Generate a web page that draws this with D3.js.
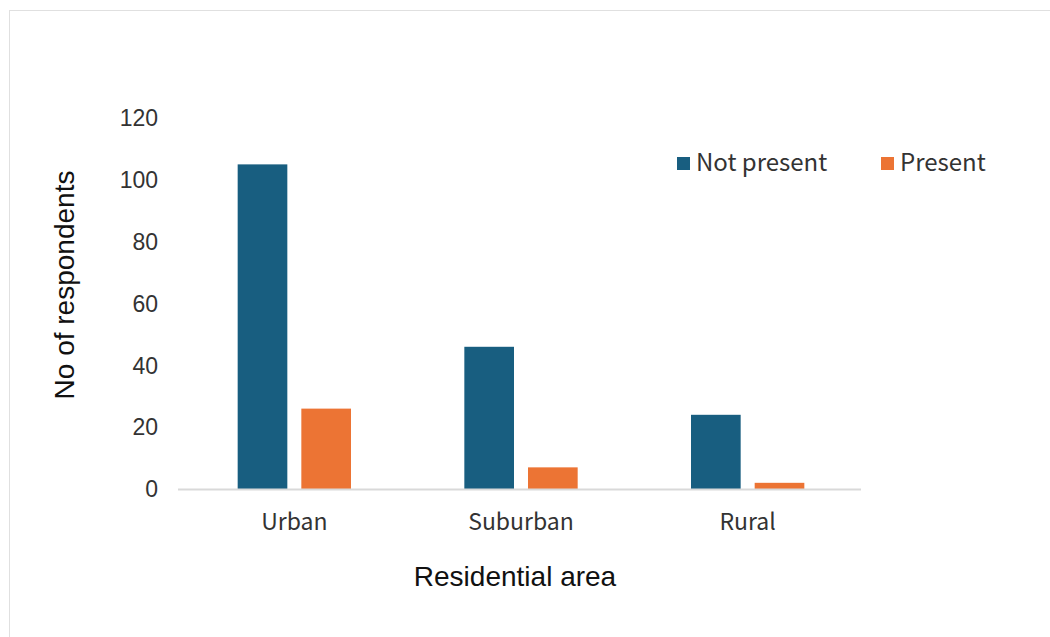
<!DOCTYPE html>
<html>
<head>
<meta charset="utf-8">
<script src="https://cdn.jsdelivr.net/npm/d3@7"></script>
<style>
  body { margin: 0; background: #fff; }
  svg { display: block; }
</style>
</head>
<body>
<div id="chart"></div>
<script>
// Data
const categories = ['Urban', 'Suburban', 'Rural'];
const seriesNames = ['Not present', 'Present'];
const notPresent = [105, 46, 24];
const present = [26, 7, 2];
const yTicks = [0, 20, 40, 60, 80, 100, 120];

const colors = ['#185e80', '#ec7434'];
const width = 1050, height = 637;
const margin = { left: 181, right: 189, top: 118, bottom: 148 };

const svg = d3.select('#chart').append('svg')
    .attr('width', width)
    .attr('height', height);

// Frame
svg.append('rect')
    .attr('x', 9.5).attr('y', 10.5)
    .attr('width', width + 20).attr('height', height + 20)
    .attr('fill', 'none')
    .attr('stroke', '#e0e0e0')
    .attr('stroke-width', 1);

const x0 = d3.scaleBand()
    .domain(categories)
    .range([margin.left, width - margin.right])
    .paddingInner(0.5)
    .paddingOuter(0.25);

const x1 = d3.scaleBand()
    .domain(seriesNames)
    .range([0, x0.bandwidth()])
    .paddingInner(0.22);

const y = d3.scaleLinear()
    .domain([0, 120])
    .range([height - margin.bottom, margin.top]);

const rows = categories.map((c, i) => ({ cat: c, values: [notPresent[i], present[i]] }));

// Bars
const groups = svg.selectAll('g.cat')
    .data(rows)
    .join('g')
    .attr('class', 'cat')
    .attr('transform', d => `translate(${x0(d.cat)},0)`);

groups.selectAll('rect')
    .data(d => d.values.map((v, i) => ({ name: seriesNames[i], value: v, i })))
    .join('rect')
    .attr('x', d => x1(d.name))
    .attr('y', d => y(d.value))
    .attr('width', x1.bandwidth())
    .attr('height', d => y(0) - y(d.value))
    .attr('fill', d => colors[d.i]);

// X axis line
svg.append('line')
    .attr('x1', margin.left - 3)
    .attr('x2', width - margin.right)
    .attr('y1', y(0) + 0.5)
    .attr('y2', y(0) + 0.5)
    .attr('stroke', '#d9d9d9')
    .attr('stroke-width', 2);

// Y tick labels
svg.append('g')
    .selectAll('text')
    .data(yTicks)
    .join('text')
    .attr('x', 158)
    .attr('y', d => y(d))
    .attr('dy', '0.36em')
    .attr('text-anchor', 'end')
    .attr('font-family', 'Liberation Sans, Arial, sans-serif')
    .attr('font-size', 23)
    .attr('fill', '#333')
    .text(d => d);

// X category labels
svg.append('g')
    .selectAll('text')
    .data(categories)
    .join('text')
    .attr('x', d => x0(d) + x0.bandwidth() / 2)
    .attr('y', 530)
    .attr('text-anchor', 'middle')
    .attr('font-family', 'Noto Sans CJK SC, Noto Sans, sans-serif')
    .attr('font-size', 23)
    .attr('fill', '#333')
    .text(d => d);

// Axis titles
svg.append('text')
    .attr('x', 515)
    .attr('y', 586)
    .attr('text-anchor', 'middle')
    .attr('font-family', 'Liberation Sans, Arial, sans-serif')
    .attr('font-size', 28)
    .attr('fill', '#111')
    .text('Residential area');

svg.append('text')
    .attr('transform', 'translate(74,285) rotate(-90)')
    .attr('text-anchor', 'middle')
    .attr('font-family', 'Liberation Sans, Arial, sans-serif')
    .attr('font-size', 28)
    .attr('fill', '#111')
    .text('No of respondents');

// Legend
const legendX = [677, 881];
const legend = svg.append('g')
    .selectAll('g')
    .data(seriesNames)
    .join('g')
    .attr('transform', (d, i) => `translate(${legendX[i]},157)`);

legend.append('rect')
    .attr('width', 13).attr('height', 13)
    .attr('fill', (d, i) => colors[i]);

legend.append('text')
    .attr('x', 19)
    .attr('y', 14)
    .attr('font-family', 'Noto Sans CJK SC, Noto Sans, sans-serif')
    .attr('font-size', 24)
    .attr('fill', '#333')
    .text(d => d);
</script>
</body>
</html>
